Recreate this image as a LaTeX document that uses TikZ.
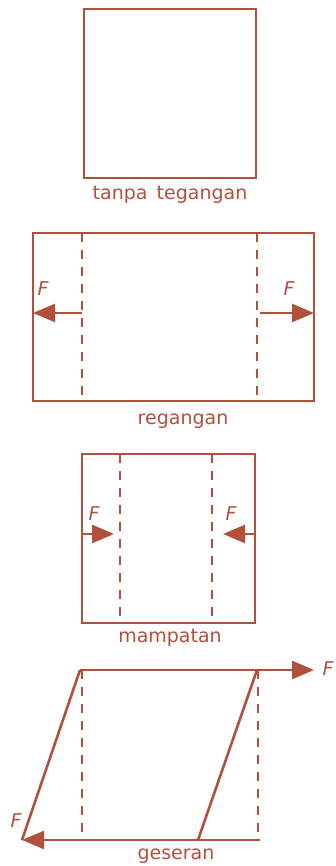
\documentclass[tikz,border=0pt]{standalone}
\usepackage{fontspec}
\setmainfont{DejaVu Sans}
\usetikzlibrary{arrows.meta}
\definecolor{rust}{RGB}{178,80,62}
\begin{document}
\begin{tikzpicture}[x=1pt,y=-1pt,
  solid line/.style={draw=rust,line width=2.6pt},
  dash line/.style={draw=rust,line width=2.6pt,dash pattern=on 9pt off 8pt},
  force/.style={draw=rust,line width=2.6pt,-{Triangle[length=22pt,width=18pt]}},
  lbl/.style={text=rust,font=\fontsize{19}{20}\selectfont,anchor=base,inner sep=0pt},
  flbl/.style={text=rust,font=\fontsize{19}{20}\selectfont\itshape,anchor=base,inner sep=0pt}]
\useasboundingbox (0,0) rectangle (336,866);
% 1 tanpa tegangan
\draw[solid line] (84,9) rectangle (256,178);
\node[lbl] (t1) at (170,200) {tanpa\, tegangan};
% 2 regangan
\draw[solid line] (33,233) rectangle (314,401);
\coordinate (a1) at (82,233); \coordinate (a2) at (82,401);
\coordinate (b1) at (257,233); \coordinate (b2) at (257,401);
\draw[dash line] (a1) -- (a2);
\draw[dash line] (b1) -- (b2);
\coordinate (la) at (82,313); \coordinate (lt) at (33,313);
\coordinate (ra) at (260,313); \coordinate (rt) at (314,313);
\draw[force] (la) -- (lt);
\draw[force] (ra) -- (rt);
\node[flbl] (f1) at (43,295) {F};
\node[flbl] (f2) at (289,295) {F};
\node[lbl] (t2) at (183,424) {regangan};
% 3 mampatan
\draw[solid line] (82,454) rectangle (255,623);
\coordinate (c1) at (120,454); \coordinate (c2) at (120,623);
\coordinate (d1) at (212,454); \coordinate (d2) at (212,623);
\draw[dash line] (c1) -- (c2);
\draw[dash line] (d1) -- (d2);
\coordinate (ma) at (82,534); \coordinate (mt) at (114,534);
\coordinate (na) at (255,534); \coordinate (nt) at (223,534);
\draw[force] (ma) -- (mt);
\draw[force] (na) -- (nt);
\node[flbl] (f3) at (94,520) {F};
\node[flbl] (f4) at (231,520) {F};
\node[lbl] (t3) at (170,642) {mampatan};
% 4 geseran
\coordinate (p1) at (80,670); \coordinate (p2) at (257,670);
\coordinate (p3) at (198,840); \coordinate (p4) at (22,840);
\coordinate (q1) at (314,670); \coordinate (q2) at (260,840);
\draw[force] (p1) -- (q1);
\draw[force] (q2) -- (p4);
\draw[solid line] (p1) -- (p4);
\draw[solid line] (p2) -- (p3);
\coordinate (e1) at (82,670); \coordinate (e2) at (82,840);
\coordinate (g1) at (258,670); \coordinate (g2) at (258,840);
\draw[dash line] (e1) -- (e2);
\draw[dash line] (g1) -- (g2);
\node[flbl] (f5) at (328,675) {F};
\node[flbl] (f6) at (16,827) {F};
\node[lbl] (t4) at (176,859) {geseran};
\end{tikzpicture}
\end{document}
